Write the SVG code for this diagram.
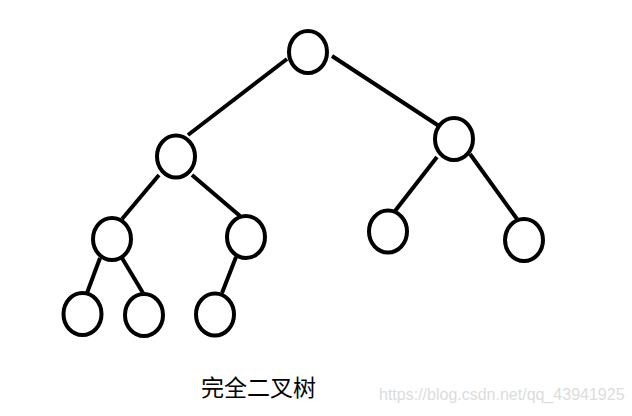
<svg xmlns="http://www.w3.org/2000/svg" width="632" height="416" viewBox="0 0 632 416">
<style>
.n{fill:none;stroke:#000;stroke-width:4}
.e{stroke:#000;stroke-width:4;stroke-linecap:butt}
.t{font-family:"Microsoft YaHei","Noto Sans CJK SC",sans-serif;font-size:23px;fill:#000}
.w{font-family:"Liberation Sans",Arial,sans-serif;font-size:16px;fill:#dcdcdc}
</style>
<rect width="632" height="416" fill="#fff"/>
<g id="connectors">
<line class="e" x1="287" y1="59" x2="188" y2="135"/>
<line class="e" x1="332" y1="56" x2="439" y2="126"/>
<line class="e" x1="159" y1="175" x2="122" y2="219"/>
<line class="e" x1="192" y1="175" x2="240" y2="216"/>
<line class="e" x1="437" y1="157" x2="395" y2="211"/>
<line class="e" x1="470" y1="154" x2="517" y2="219"/>
<line class="e" x1="100" y1="258" x2="87" y2="293"/>
<line class="e" x1="122" y1="258" x2="143" y2="293"/>
<line class="e" x1="236" y1="257" x2="222" y2="293"/>
</g>
<g id="n1"><ellipse class="n" cx="308" cy="52" rx="19" ry="21"/></g>
<g id="n2"><ellipse class="n" cx="176" cy="156.5" rx="19" ry="21"/></g>
<g id="n3"><ellipse class="n" cx="454" cy="139" rx="19" ry="21"/></g>
<g id="n4"><ellipse class="n" cx="112" cy="239" rx="19" ry="21"/></g>
<g id="n5"><ellipse class="n" cx="246" cy="237" rx="19" ry="21"/></g>
<g id="n6"><ellipse class="n" cx="388" cy="231.5" rx="19" ry="21"/></g>
<g id="n7"><ellipse class="n" cx="524" cy="240" rx="19" ry="21"/></g>
<g id="n8"><ellipse class="n" cx="82.5" cy="314" rx="19" ry="21"/></g>
<g id="n9"><ellipse class="n" cx="144" cy="315" rx="19" ry="21"/></g>
<g id="n10"><ellipse class="n" cx="215" cy="314.5" rx="19" ry="21"/></g>
<text class="t" x="201" y="396">完全二叉树</text>
<text class="w" x="379" y="400">https://blog.csdn.net/qq_43941925</text>
</svg>
